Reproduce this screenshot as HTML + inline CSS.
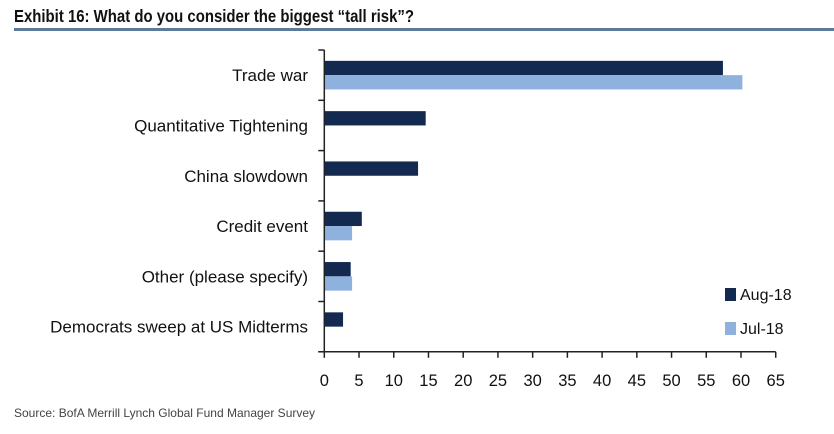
<!DOCTYPE html>
<html><head><meta charset="utf-8"><style>
body{margin:0;background:#fff;width:834px;height:429px;overflow:hidden;font-family:"Liberation Sans",sans-serif}
</style></head><body>
<svg width="834" height="429" xmlns="http://www.w3.org/2000/svg">
<text x="14" y="22" font-size="17.5" font-weight="bold" fill="#111" textLength="400" lengthAdjust="spacingAndGlyphs">Exhibit 16: What do you consider the biggest “tall risk”?</text>
<rect x="14" y="28" width="820" height="3" fill="#5d7b99"/>
<g id="plot"></g>
<rect x="725" y="288" width="11" height="13" fill="#13294f"/>
<text x="740" y="300" font-size="16" fill="#111">Aug-18</text>
<rect x="725" y="322" width="11" height="13" fill="#8eb1dd"/>
<text x="740" y="334" font-size="16" fill="#111">Jul-18</text>
<text x="14" y="417" font-size="12" fill="#444">Source:  BofA Merrill Lynch Global Fund Manager Survey</text>
</svg>
<script>
const categories=["Trade war","Quantitative Tightening","China slowdown","Credit event","Other (please specify)","Democrats sweep at US Midterms"];
const aug18=[57.4,14.6,13.5,5.4,3.8,2.7];
const jul18=[60.2,0,0,4.0,4.0,0];
const xTicks=[0,5,10,15,20,25,30,35,40,45,50,55,60,65];
const NS="http://www.w3.org/2000/svg";
const g=document.getElementById('plot');
const x0=324.3,pxPer=(741-324.3)/60,plotTop=50,band=50.3,bh=14.3;
const xs=v=>x0+v*pxPer;
function el(t,a){const e=document.createElementNS(NS,t);for(const k in a)e.setAttribute(k,a[k]);g.appendChild(e);return e;}
categories.forEach((c,i)=>{
  const cy=plotTop+band*i+band/2;
  const lab=el('text',{x:308,y:cy+6,'font-size':17,'text-anchor':'end',fill:'#111'});
  lab.textContent=c;
  
  
  if(aug18[i]>0){const r=el('rect',{x:x0,y:cy-bh,width:xs(aug18[i])-x0,height:bh,fill:'#13294f'});
  
  }
  if(jul18[i]>0){const r=el('rect',{x:x0,y:cy,width:xs(jul18[i])-x0,height:bh,fill:'#8eb1dd'});
  
  }
});
for(let i=0;i<=categories.length;i++){
  const y=plotTop+band*i;
  const t=el('line',{x1:x0-6,x2:x0,y1:y,y2:y,stroke:'#222','stroke-width':1.5});
  
  
}
const ya=el('line',{x1:x0,x2:x0,y1:plotTop,y2:plotTop+band*6,stroke:'#222','stroke-width':1.5});


const yb=plotTop+band*6;
const xa=el('line',{x1:x0-6,x2:xs(65),y1:yb,y2:yb,stroke:'#222','stroke-width':1.5});


xTicks.forEach(v=>{
  const t=el('line',{x1:xs(v),x2:xs(v),y1:yb,y2:yb+6,stroke:'#222','stroke-width':1.5});
  
  
  const l=el('text',{x:xs(v),y:yb+34,'font-size':16.5,'text-anchor':'middle',fill:'#111'});
  l.textContent=v;
  
  
});
</script>
</body></html>
